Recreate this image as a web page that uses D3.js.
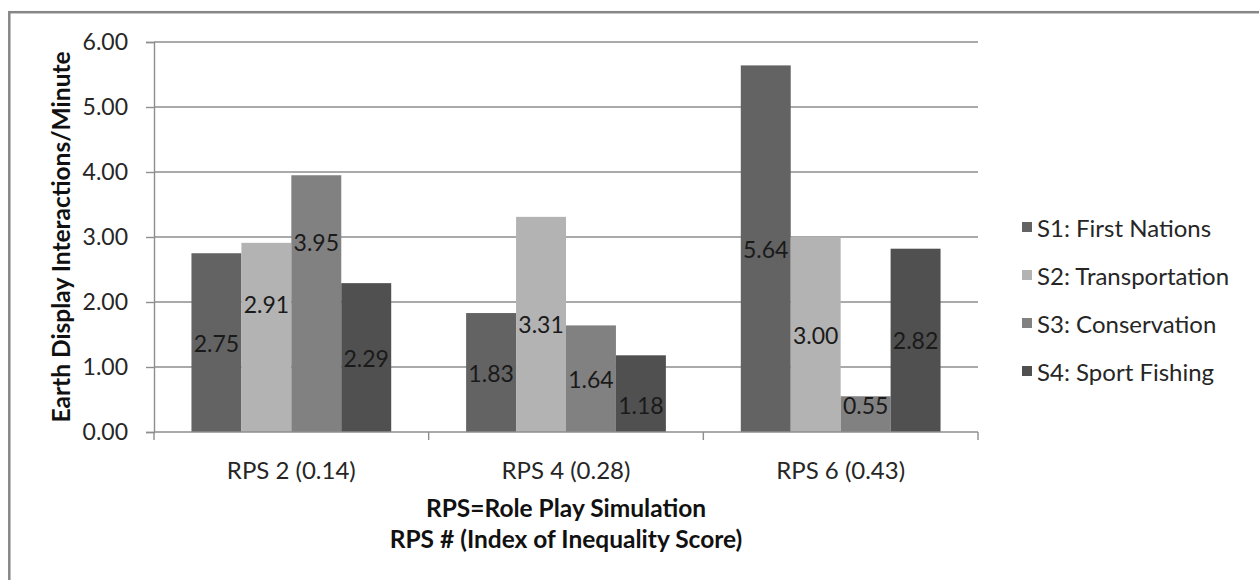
<!DOCTYPE html>
<html>
<head>
<meta charset="utf-8">
<script src="https://cdn.jsdelivr.net/npm/d3@7"></script>
<style>
  html, body { margin: 0; padding: 0; background: #fff; }
  svg { display: block; font-family: Lato, "Open Sans", sans-serif; }
</style>
</head>
<body>
<svg id="chart" width="1259" height="580"></svg>
<script>
// Categories (role play sessions) and series (stakeholder roles)
const categories = ["RPS 2 (0.14)", "RPS 4 (0.28)", "RPS 6 (0.43)"];
const seriesNames = ["S1: First Nations", "S2: Transportation", "S3: Conservation", "S4: Sport Fishing"];

// Earth display interactions per minute, one array per series
const s1FirstNations   = [2.75, 1.83, 5.64];
const s2Transportation = [2.91, 3.31, 3.00];
const s3Conservation   = [3.95, 1.64, 0.55];
const s4SportFishing   = [2.29, 1.18, 2.82];

const yTicks = [0, 1, 2, 3, 4, 5, 6];
const yAxisTitle = "Earth Display Interactions/Minute";
const xAxisTitle = ["RPS=Role Play Simulation", "RPS # (Index of Inequality Score)"];

const seriesValues = [s1FirstNations, s2Transportation, s3Conservation, s4SportFishing];
const seriesColors = ["#636363", "#b3b3b3", "#818181", "#505050"];

// Some value labels are lifted off the bar centre so they clear neighbours
// (amounts in axis units, keyed "series|category")
const labelLift = { "1|0": 0.52, "2|0": 0.95, "2|2": 0.14, "3|1": -0.18 };

const svg = d3.select("#chart");

// Outer chart frame (runs off the right and bottom edges)
svg.append("rect")
  .attr("x", 9.3).attr("y", 12.2)
  .attr("width", 1400).attr("height", 700)
  .attr("fill", "none").attr("stroke", "#878787").attr("stroke-width", 2.5);

const plot = { left: 154, right: 978, top: 42, bottom: 432 };

const y = d3.scaleLinear().domain([0, 6]).range([plot.bottom, plot.top]);
const x0 = d3.scaleBand().domain(categories).range([plot.left, plot.right]);
const x1 = d3.scaleBand().domain(d3.range(seriesNames.length))
  .range([0, x0.bandwidth()]).paddingInner(0).paddingOuter(0.75);

// Horizontal gridlines
svg.append("g").selectAll("line")
  .data(yTicks.filter(t => t > 0))
  .join("line")
  .attr("x1", plot.left).attr("x2", plot.right)
  .attr("y1", d => y(d)).attr("y2", d => y(d))
  .attr("stroke", "#8e8e8e").attr("stroke-width", 1.4);

// Bars
const rows = [];
seriesValues.forEach((vals, si) => vals.forEach((v, ci) => rows.push({ si, ci, v })));

svg.append("g").selectAll("rect")
  .data(rows)
  .join("rect")
  .attr("x", d => x0(categories[d.ci]) + x1(d.si))
  .attr("width", x1.bandwidth())
  .attr("y", d => y(d.v))
  .attr("height", d => y(0) - y(d.v))
  .attr("fill", d => seriesColors[d.si]);

// Y axis
const yAxis = d3.axisLeft(y).tickValues(yTicks).tickFormat(d3.format(".2f"))
  .tickSize(8).tickPadding(18);
const gy = svg.append("g").attr("transform", `translate(${plot.left},0)`).call(yAxis);
gy.select(".domain").attr("stroke", "#8e8e8e").attr("stroke-width", 1.4);
gy.selectAll(".tick line").attr("stroke", "#8e8e8e").attr("stroke-width", 1.4);
gy.selectAll(".tick text").attr("font-size", 23).attr("fill", "#262626")
  .attr("font-family", "Lato, sans-serif");

// X axis: ticks sit on the category boundaries
svg.append("line")
  .attr("x1", plot.left).attr("x2", plot.right)
  .attr("y1", plot.bottom).attr("y2", plot.bottom)
  .attr("stroke", "#8e8e8e").attr("stroke-width", 1.4);
const boundaries = categories.map(c => x0(c)).concat([x0(categories[categories.length - 1]) + x0.bandwidth()]);
svg.append("g").selectAll("line")
  .data(boundaries)
  .join("line")
  .attr("x1", d => d).attr("x2", d => d)
  .attr("y1", plot.bottom).attr("y2", plot.bottom + 8)
  .attr("stroke", "#8e8e8e").attr("stroke-width", 1.4);

svg.append("g").selectAll("text")
  .data(categories)
  .join("text")
  .attr("x", d => x0(d) + x0.bandwidth() / 2)
  .attr("y", 469)
  .attr("text-anchor", "middle")
  .attr("dominant-baseline", "central")
  .attr("font-size", 24)
  .attr("fill", "#262626")
  .text(d => d);

// Value labels
svg.append("g").selectAll("text")
  .data(rows)
  .join("text")
  .attr("x", d => x0(categories[d.ci]) + x1(d.si) + x1.bandwidth() / 2)
  .attr("y", d => y(d.v / 2 + (labelLift[d.si + "|" + d.ci] || 0)))
  .attr("text-anchor", "middle")
  .attr("dominant-baseline", "central")
  .attr("font-size", 23)
  .attr("fill", "#1a1a1a")
  .text(d => d.v.toFixed(2));

// Axis titles
svg.append("text")
  .attr("transform", `translate(60,${(plot.top + plot.bottom) / 2}) rotate(-90)`)
  .attr("text-anchor", "middle")
  .attr("dominant-baseline", "central")
  .attr("font-size", 24.5).attr("font-weight", "bold").attr("fill", "#111")
  .text(yAxisTitle);

svg.append("g").selectAll("text")
  .data(xAxisTitle)
  .join("text")
  .attr("x", (plot.left + plot.right) / 2)
  .attr("y", (d, i) => 507 + i * 31)
  .attr("text-anchor", "middle")
  .attr("dominant-baseline", "central")
  .attr("font-size", 24.5).attr("font-weight", "bold").attr("fill", "#111")
  .text(d => d);

// Legend
const legend = svg.append("g").selectAll("g")
  .data(seriesNames)
  .join("g")
  .attr("transform", (d, i) => `translate(1022,${227 + i * 48})`);
legend.append("rect")
  .attr("x", 0).attr("y", -5).attr("width", 10).attr("height", 10)
  .attr("fill", (d, i) => seriesColors[i]);
legend.append("text")
  .attr("x", 15).attr("y", 0)
  .attr("dominant-baseline", "central")
  .attr("font-size", 24).attr("fill", "#262626")
  .text(d => d);
</script>
</body>
</html>
